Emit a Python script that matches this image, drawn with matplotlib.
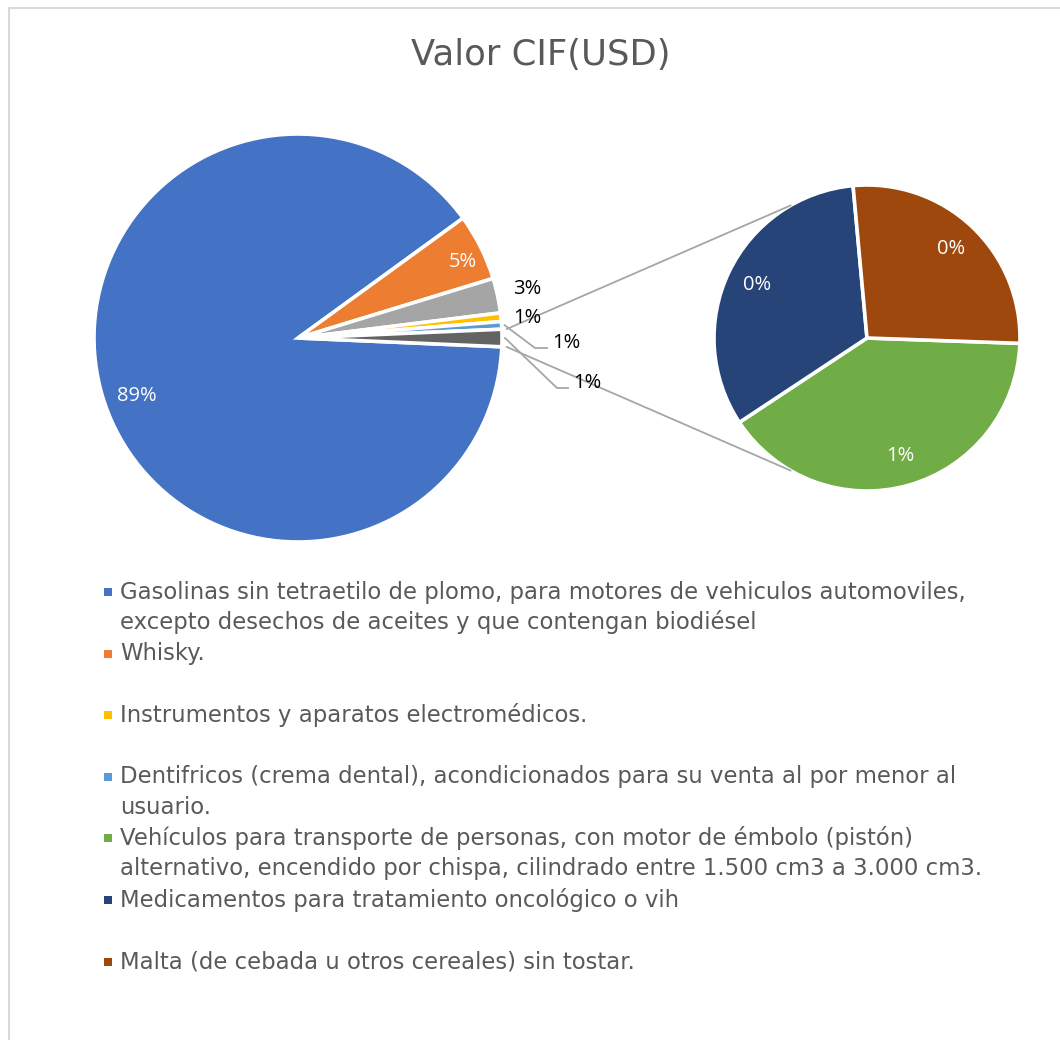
import numpy as np
import matplotlib
matplotlib.use("Agg")
import matplotlib.pyplot as plt
from matplotlib.patches import Rectangle

# ---------------- data ----------------
main_labels = [
    "Gasolinas sin tetraetilo de plomo, para motores de vehiculos automoviles,\nexcepto desechos de aceites y que contengan biodiésel",
    "Whisky.",
    "",
    "Instrumentos y aparatos electromédicos.",
    "Dentifricos (crema dental), acondicionados para su venta al por menor al\nusuario.",
]
main_values = [89.30, 5.28, 2.75, 0.68, 0.60]
main_colors = ["#4472C4", "#ED7D31", "#A5A5A5", "#FFC000", "#5B9BD5"]

sec_labels = [
    "Vehículos para transporte de personas, con motor de émbolo (pistón)\nalternativo, encendido por chispa, cilindrado entre 1.500 cm3 a 3.000 cm3.",
    "Medicamentos para tratamiento oncológico o vih",
    "Malta (de cebada u otros cereales) sin tostar.",
]
sec_values = [0.55, 0.45, 0.37]
sec_colors = ["#70AD47", "#264478", "#9E480E"]
other_color = "#636363"

title = "Valor CIF(USD)"

# ---------------- figure ----------------
W, H = 1060, 1040
fig = plt.figure(figsize=(W / 100, H / 100), dpi=100)
ax = fig.add_axes([0, 0, 1, 1])

def Y(py):
    return H - py

total = sum(main_values) + sum(sec_values)
other = sum(sec_values)
all_vals = main_values + [other]
cols = main_colors + [other_color]

c1 = (298, Y(338)); r1 = 204
c2 = (867, Y(338)); r2 = 153

start1 = -other / total * 360 / 2
w1, _ = ax.pie(all_vals, colors=cols, startangle=start1, counterclock=False,
               center=c1, radius=r1, frame=True,
               wedgeprops=dict(edgecolor="white", linewidth=2.6))
w2, _ = ax.pie(sec_values, colors=sec_colors, startangle=-2, counterclock=False,
               center=c2, radius=r2, frame=True,
               wedgeprops=dict(edgecolor="white", linewidth=2.6))
ax.set_xlim(0, W)
ax.set_ylim(0, H)
ax.set_aspect("auto")
ax.axis("off")

lblfont = dict(family=["Open Sans", "DejaVu Sans"], fontsize=14.5)

def pct(v):
    return f"{round(v / total * 100):.0f}%"

def polar(c, r, ang):
    a = np.deg2rad(ang)
    return c[0] + r * np.cos(a), c[1] + r * np.sin(a)

def mid(w):
    return (w.theta1 + w.theta2) / 2

# main labels
x, y = polar(c1, 0.84 * r1, mid(w1[0]) + 3)
ax.text(x, y, pct(all_vals[0]), color="white", ha="center", va="center", **lblfont)
x, y = polar(c1, 0.89 * r1, mid(w1[1]) - 1.8)
ax.text(x, y, pct(all_vals[1]), color="white", ha="center", va="center", **lblfont)
x, y = polar(c1, 1.15 * r1, mid(w1[2]))
ax.text(x, y, pct(all_vals[2]), color="black", ha="center", va="center", **lblfont)
x, y = polar(c1, 1.127 * r1, mid(w1[3]) - 0.8)
ax.text(x, y, pct(all_vals[3]), color="black", ha="center", va="center", **lblfont)

# leader-line labels
lc = "#A6A6A6"
for w, v, p1, p2 in [(w1[4], all_vals[4], (535, Y(348)), (547, Y(348))),
                     (w1[5], all_vals[5], (557, Y(388)), (568, Y(388)))]:
    sx, sy = polar(c1, r1 + 3, mid(w))
    ax.plot([sx, p1[0], p2[0]], [sy, p1[1], p2[1]], color=lc, lw=1.3)
    ax.text(p2[0] + 5, p2[1] + 5, pct(v), color="black", ha="left", va="center", **lblfont)

# secondary labels
for w, v in zip(w2, sec_values):
    x, y = polar(c2, 0.80 * r2, mid(w))
    ax.text(x, y, pct(v), color="white", ha="center", va="center", **lblfont)

# connector lines
th = other / total * 360 / 2
for s, e in [(th, 120), (-th, -120)]:
    sx, sy = polar(c1, r1 + 5, s)
    ex, ey = polar(c2, r2, e)
    ax.plot([sx, ex], [sy, ey], color=lc, lw=1.3)

# title
ax.text(541, Y(55), title, ha="center", va="center", color="#595959",
        family=["DejaVu Sans"], fontsize=25.5)

# legend (each entry takes a two-line slot)
leg_labels = [main_labels[0], main_labels[1], main_labels[3], main_labels[4]] + sec_labels
leg_colors = [main_colors[0], main_colors[1], main_colors[3], main_colors[4]] + sec_colors
y0 = 592
slot = 61.6
lh = 30.5
for i, (lab, col) in enumerate(zip(leg_labels, leg_colors)):
    yy = y0 + i * slot
    ax.add_patch(Rectangle((104, Y(yy) - 4), 8, 8, color=col, lw=0))
    for j, line in enumerate(lab.split("\n")):
        ax.text(120, Y(yy + j * lh), line, ha="left", va="center", color="#595959",
                family=["DejaVu Sans"], fontsize=16.4)

# border
ax.plot([8.5, 8.5, W], [0, Y(7.5), Y(7.5)], color="#D9D9D9", lw=1.5)

fig.savefig("out.png", dpi=100)
